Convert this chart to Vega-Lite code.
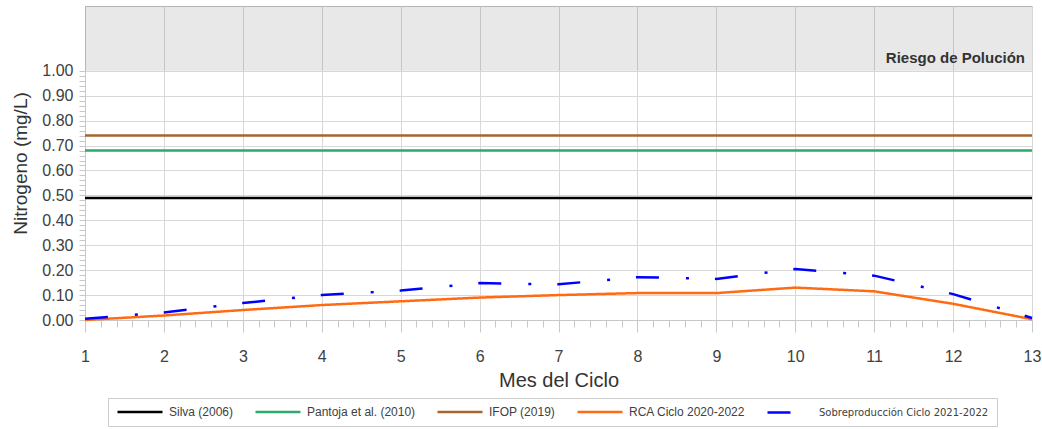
{
  "$schema": "https://vega.github.io/schema/vega-lite/v6.json",
  "width": 947,
  "height": 314,
  "autosize": {"type": "none"},
  "padding": {"left": 85, "top": 6, "right": 10, "bottom": 109},
  "background": "white",
  "config": {
    "view": {"stroke": "#c8c8c8", "strokeWidth": 1},
    "font": "Liberation Sans"
  },
  "resolve": {"axis": {"x": "independent", "y": "independent"}},
  "datasets": {
    "zona": [{"zona": "Riesgo de Polución", "desde": 1.0, "hasta": 1.26, "mes_ini": 1, "mes_fin": 13}],
    "series": [
      {"mes": 1, "valor": 0.49, "serie": "Silva (2006)"},
      {"mes": 13, "valor": 0.49, "serie": "Silva (2006)"},
      {"mes": 1, "valor": 0.68, "serie": "Pantoja et al. (2010)"},
      {"mes": 13, "valor": 0.68, "serie": "Pantoja et al. (2010)"},
      {"mes": 1, "valor": 0.74, "serie": "IFOP (2019)"},
      {"mes": 13, "valor": 0.74, "serie": "IFOP (2019)"},
      {"mes": 1, "valor": 0.0, "serie": "RCA Ciclo 2020-2022"},
      {"mes": 2, "valor": 0.018, "serie": "RCA Ciclo 2020-2022"},
      {"mes": 3, "valor": 0.04, "serie": "RCA Ciclo 2020-2022"},
      {"mes": 4, "valor": 0.06, "serie": "RCA Ciclo 2020-2022"},
      {"mes": 5, "valor": 0.075, "serie": "RCA Ciclo 2020-2022"},
      {"mes": 6, "valor": 0.09, "serie": "RCA Ciclo 2020-2022"},
      {"mes": 7, "valor": 0.1, "serie": "RCA Ciclo 2020-2022"},
      {"mes": 8, "valor": 0.108, "serie": "RCA Ciclo 2020-2022"},
      {"mes": 9, "valor": 0.108, "serie": "RCA Ciclo 2020-2022"},
      {"mes": 10, "valor": 0.13, "serie": "RCA Ciclo 2020-2022"},
      {"mes": 11, "valor": 0.115, "serie": "RCA Ciclo 2020-2022"},
      {"mes": 12, "valor": 0.065, "serie": "RCA Ciclo 2020-2022"},
      {"mes": 13, "valor": 0.003, "serie": "RCA Ciclo 2020-2022"},
      {"mes": 1, "valor": 0.005, "serie": "Sobreproducción Ciclo 2021-2022"},
      {"mes": 2, "valor": 0.03, "serie": "Sobreproducción Ciclo 2021-2022"},
      {"mes": 3, "valor": 0.068, "serie": "Sobreproducción Ciclo 2021-2022"},
      {"mes": 4, "valor": 0.1, "serie": "Sobreproducción Ciclo 2021-2022"},
      {"mes": 5, "valor": 0.118, "serie": "Sobreproducción Ciclo 2021-2022"},
      {"mes": 6, "valor": 0.148, "serie": "Sobreproducción Ciclo 2021-2022"},
      {"mes": 7, "valor": 0.143, "serie": "Sobreproducción Ciclo 2021-2022"},
      {"mes": 8, "valor": 0.172, "serie": "Sobreproducción Ciclo 2021-2022"},
      {"mes": 9, "valor": 0.165, "serie": "Sobreproducción Ciclo 2021-2022"},
      {"mes": 10, "valor": 0.205, "serie": "Sobreproducción Ciclo 2021-2022"},
      {"mes": 11, "valor": 0.178, "serie": "Sobreproducción Ciclo 2021-2022"},
      {"mes": 12, "valor": 0.104, "serie": "Sobreproducción Ciclo 2021-2022"},
      {"mes": 13, "valor": 0.008, "serie": "Sobreproducción Ciclo 2021-2022"}
    ]
  },
  "layer": [
    {
      "data": {"name": "series"},
      "mark": {"type": "line", "strokeWidth": 2.5},
      "encoding": {
        "x": {
          "field": "mes", "type": "quantitative",
          "scale": {"domain": [1, 13], "nice": false, "zero": false},
          "axis": {
            "orient": "bottom",
            "title": "Mes del Ciclo",
            "titleFontSize": 20, "titleFontWeight": "normal", "titleColor": "#333333", "titlePadding": 6,
            "values": [1,1.2,1.4,1.6,1.8,2,2.2,2.4,2.6,2.8,3,3.2,3.4,3.6,3.8,4,4.2,4.4,4.6,4.8,5,5.2,5.4,5.6,5.8,6,6.2,6.4,6.6,6.8,7,7.2,7.4,7.6,7.8,8,8.2,8.4,8.6,8.8,9,9.2,9.4,9.6,9.8,10,10.2,10.4,10.6,10.8,11,11.2,11.4,11.6,11.8,12,12.2,12.4,12.6,12.8,13],
            "labelExpr": "datum.value % 1 == 0 ? format(datum.value, 'd') : ''",
            "labelOverlap": false, "labelFlush": false,
            "labelFontSize": 16, "labelColor": "#404040", "labelPadding": 16,
            "tickSize": {"condition": {"test": "datum.value % 1 == 0", "value": 12}, "value": 7},
            "tickColor": "#c8c8c8",
            "gridColor": "#d8d8d8",
            "gridOpacity": {"condition": {"test": "datum.value % 1 == 0", "value": 1}, "value": 0},
            "domainColor": "#c8c8c8"
          }
        },
        "y": {
          "field": "valor", "type": "quantitative",
          "scale": {"domain": [0, 1.26], "nice": false},
          "axis": {
            "orient": "left",
            "title": "Nitrogeno (mg/L)",
            "titleFontSize": 19, "titleFontWeight": "normal", "titleColor": "#333333", "titlePadding": 11,
            "values": [0,0.02,0.04,0.06,0.08,0.1,0.12,0.14,0.16,0.18,0.2,0.22,0.24,0.26,0.28,0.3,0.32,0.34,0.36,0.38,0.4,0.42,0.44,0.46,0.48,0.5,0.52,0.54,0.56,0.58,0.6,0.62,0.64,0.66,0.68,0.7,0.72,0.74,0.76,0.78,0.8,0.82,0.84,0.86,0.88,0.9,0.92,0.94,0.96,0.98,1],
            "labelExpr": "abs(datum.value*10 - round(datum.value*10)) < 0.000001 ? format(datum.value, '.2f') : ''",
            "labelOverlap": false, "labelFlush": false,
            "labelFontSize": 16, "labelColor": "#404040", "labelPadding": 6,
            "tickSize": 6, "tickColor": "#c8c8c8",
            "encode": {"ticks": {"update": {"x2": {"value": 6}}}},
            "gridColor": "#d8d8d8",
            "gridOpacity": {"condition": {"test": "abs(datum.value*10 - round(datum.value*10)) < 0.000001", "value": 1}, "value": 0},
            "domainColor": "#c8c8c8"
          }
        },
        "color": {
          "field": "serie", "type": "nominal",
          "scale": {
            "domain": ["Silva (2006)", "Pantoja et al. (2010)", "IFOP (2019)", "RCA Ciclo 2020-2022", "Sobreproducción Ciclo 2021-2022"],
            "range": ["#000000", "#2ea86b", "#a5652f", "#ff6a13", "#0000ff"]
          },
          "legend": {
            "title": null,
            "orient": "none", "legendX": 23, "legendY": 392,
            "direction": "horizontal", "columns": 5,
            "symbolType": "M-1,0H9", "symbolSize": 81, "symbolStrokeWidth": 2.5, "symbolOpacity": 1,
            "labelFontSize": 12, "labelColor": "#404040", "labelOffset": 41,
            "columnPadding": 16,
            "padding": 8, "strokeColor": "#cccccc", "fillColor": "#ffffff",
            "labelLimit": 400,
            "encode": {"labels": {"update": {
              "fontSize": {"signal": "datum.label == 'Sobreproducción Ciclo 2021-2022' ? 10 : 12"},
              "font": {"signal": "datum.label == 'Sobreproducción Ciclo 2021-2022' ? 'DejaVu Sans' : 'Liberation Sans'"}
            }}}
          }
        },
        "strokeDash": {
          "field": "serie", "type": "nominal",
          "scale": {
            "domain": ["Silva (2006)", "Pantoja et al. (2010)", "IFOP (2019)", "RCA Ciclo 2020-2022", "Sobreproducción Ciclo 2021-2022"],
            "range": [[1, 0], [1, 0], [1, 0], [1, 0], [23, 27, 3, 26]]
          },
          "legend": {
            "title": null,
            "orient": "none", "legendX": 23, "legendY": 392,
            "direction": "horizontal", "columns": 5,
            "symbolType": "M-1,0H9", "symbolSize": 81, "symbolStrokeWidth": 2.5, "symbolOpacity": 1,
            "labelFontSize": 12, "labelColor": "#404040", "labelOffset": 41,
            "columnPadding": 16,
            "padding": 8, "strokeColor": "#cccccc", "fillColor": "#ffffff",
            "labelLimit": 400
          }
        }
      }
    },
    {
      "data": {"name": "zona"},
      "mark": {"type": "rect", "fill": "#000000", "opacity": 0.09},
      "encoding": {
        "x": {"field": "mes_ini", "type": "quantitative", "scale": {"domain": [1, 13], "nice": false, "zero": false}, "axis": null},
        "x2": {"field": "mes_fin"},
        "y": {"field": "desde", "type": "quantitative", "scale": {"domain": [0, 1.26], "nice": false}, "axis": null},
        "y2": {"field": "hasta"}
      }
    },
    {
      "data": {"name": "zona"},
      "mark": {"type": "text", "align": "right", "baseline": "middle", "dx": -7, "fontWeight": "bold", "fontSize": 15, "color": "#333333"},
      "encoding": {
        "x": {"field": "mes_fin", "type": "quantitative", "scale": {"domain": [1, 13], "nice": false, "zero": false}, "axis": null},
        "y": {"datum": 1.052, "type": "quantitative", "scale": {"domain": [0, 1.26], "nice": false}, "axis": null},
        "text": {"field": "zona"}
      }
    }
  ]
}
